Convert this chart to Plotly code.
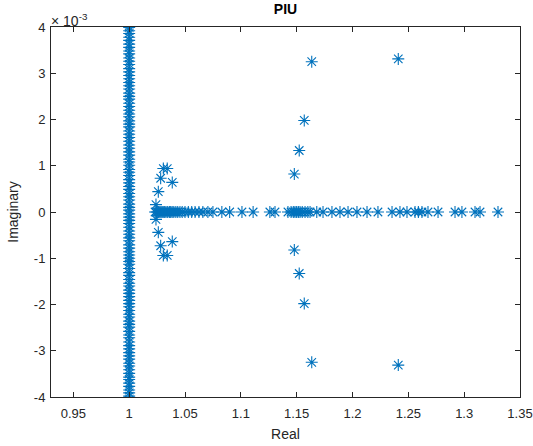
import plotly.graph_objects as go

# Vertical cluster at Real = 1 (imag values in units of 1e-3)
vert_imag = [-4.06, -3.98, -3.91, -3.85, -3.77, -3.70, -3.62, -3.57, -3.49, -3.41, -3.33, -3.27,
             -3.18, -3.11, -3.04, -2.96, -2.89, -2.81, -2.72, -2.66, -2.58, -2.49, -2.43, -2.36,
             -2.27, -2.21, -2.13, -2.05, -1.98, -1.91, -1.83, -1.76, -1.69, -1.60, -1.54, -1.46,
             -1.37, -1.31, -1.22, -1.13, -1.07, -1.00, -0.93, -0.86, -0.78, -0.71, -0.62, -0.56,
             -0.48, -0.41, -0.33, -0.25, -0.18, -0.11, -0.04, 0.04, 0.10, 0.17, 0.26, 0.33,
             0.40, 0.49, 0.55, 0.63, 0.70, 0.79, 0.86, 0.92, 1.01, 1.08, 1.14, 1.23, 1.30,
             1.38, 1.45, 1.53, 1.61, 1.68, 1.75, 1.84, 1.90, 1.97, 2.06, 2.12, 2.20, 2.28,
             2.35, 2.44, 2.50, 2.57, 2.66, 2.73, 2.80, 2.88, 2.95, 3.03, 3.10, 3.19, 3.26,
             3.33, 3.42, 3.48, 3.56, 3.63, 3.71, 3.78, 3.86, 3.92, 3.99, 4.06]

# Points on the real axis (imag = 0)
axis_real = [1.0232, 1.0245, 1.0255, 1.0265, 1.0275, 1.0285, 1.0295, 1.0305, 1.0318, 1.0330,
             1.0345, 1.0360, 1.0372, 1.0385, 1.0400, 1.0418, 1.0435, 1.0455, 1.0475, 1.0500,
             1.0530, 1.0560, 1.0590, 1.0625, 1.0660, 1.0705, 1.0750, 1.0830, 1.0900, 1.1010,
             1.1110, 1.1260, 1.1306, 1.1422, 1.1450, 1.1470, 1.1485, 1.1500, 1.1515, 1.1530,
             1.1550, 1.1575, 1.1600, 1.1620, 1.1680, 1.1736, 1.1816, 1.1888, 1.1960, 1.2040,
             1.2130, 1.2228, 1.2354, 1.2425, 1.2488, 1.2560, 1.2590, 1.2622, 1.2676, 1.2766,
             1.2918, 1.2980, 1.3097, 1.3142, 1.3303]

# Complex-conjugate pairs (upper halves; imag in units of 1e-3)
pair_real = [1.0240, 1.0261, 1.0282, 1.0306, 1.0341, 1.0386, 1.1479, 1.1523, 1.1568, 1.1635, 1.2410]
pair_imag = [0.16, 0.44, 0.73, 0.94, 0.94, 0.64, 0.82, 1.33, 1.98, 3.25, 3.31]

x_ticks = [0.95, 1.0, 1.05, 1.1, 1.15, 1.2, 1.25, 1.3, 1.35]
x_tick_labels = ["0.95", "1", "1.05", "1.1", "1.15", "1.2", "1.25", "1.3", "1.35"]
y_ticks = [-4, -3, -2, -1, 0, 1, 2, 3, 4]
y_tick_labels = ["-4", "-3", "-2", "-1", "0", "1", "2", "3", "4"]

xs = [1.0] * len(vert_imag) + axis_real + pair_real + pair_real
ys = [v * 1e-3 for v in vert_imag] + [0.0] * len(axis_real) \
     + [v * 1e-3 for v in pair_imag] + [-v * 1e-3 for v in pair_imag]

color = "#0072BD"
axc = "#262626"
font = "Liberation Sans, Arial, Helvetica, sans-serif"

fig = go.Figure(go.Scatter(
    x=xs, y=ys, mode="markers",
    marker=dict(symbol="asterisk-open", size=10, color=color,
                line=dict(color=color, width=1.1)),
    cliponaxis=True, showlegend=False))

fig.update_layout(
    width=533, height=446,
    margin=dict(l=51, r=13, t=27, b=49, autoexpand=False),
    paper_bgcolor="white", plot_bgcolor="white",
    font=dict(family=font, size=13, color=axc),
    title=dict(text="<b>PIU</b>", x=0.5, xref="paper", xanchor="center",
               y=0.99, yref="container", yanchor="top", automargin=False,
               font=dict(size=14, color="black")),
    xaxis=dict(range=[0.93, 1.35], tickvals=x_ticks, ticktext=x_tick_labels, automargin=False,
               showgrid=False, zeroline=False, showline=True, linecolor=axc, linewidth=1,
               mirror="ticks", ticks="inside", ticklen=5, tickcolor=axc, ticklabelstandoff=4,
               title=dict(text="Real", font=dict(size=14, color=axc), standoff=9)),
    yaxis=dict(range=[-4e-3, 4e-3], tickvals=[v * 1e-3 for v in y_ticks], ticktext=y_tick_labels,
               automargin=False,
               showgrid=False, zeroline=False, showline=True, linecolor=axc, linewidth=1,
               mirror="ticks", ticks="inside", ticklen=5, tickcolor=axc, ticklabelstandoff=2,
               title=dict(text="Imaginary", font=dict(size=14, color=axc), standoff=11)),
    annotations=[dict(text="× 10<sup>-3</sup>", xref="paper", yref="paper", x=0, y=1,
                      xanchor="left", yanchor="bottom", showarrow=False,
                      font=dict(size=14, color=axc), xshift=-2, yshift=-4)],
)

fig.write_html("out.html", config={"displayModeBar": False},
               post_script="document.body.style.margin='0';")
